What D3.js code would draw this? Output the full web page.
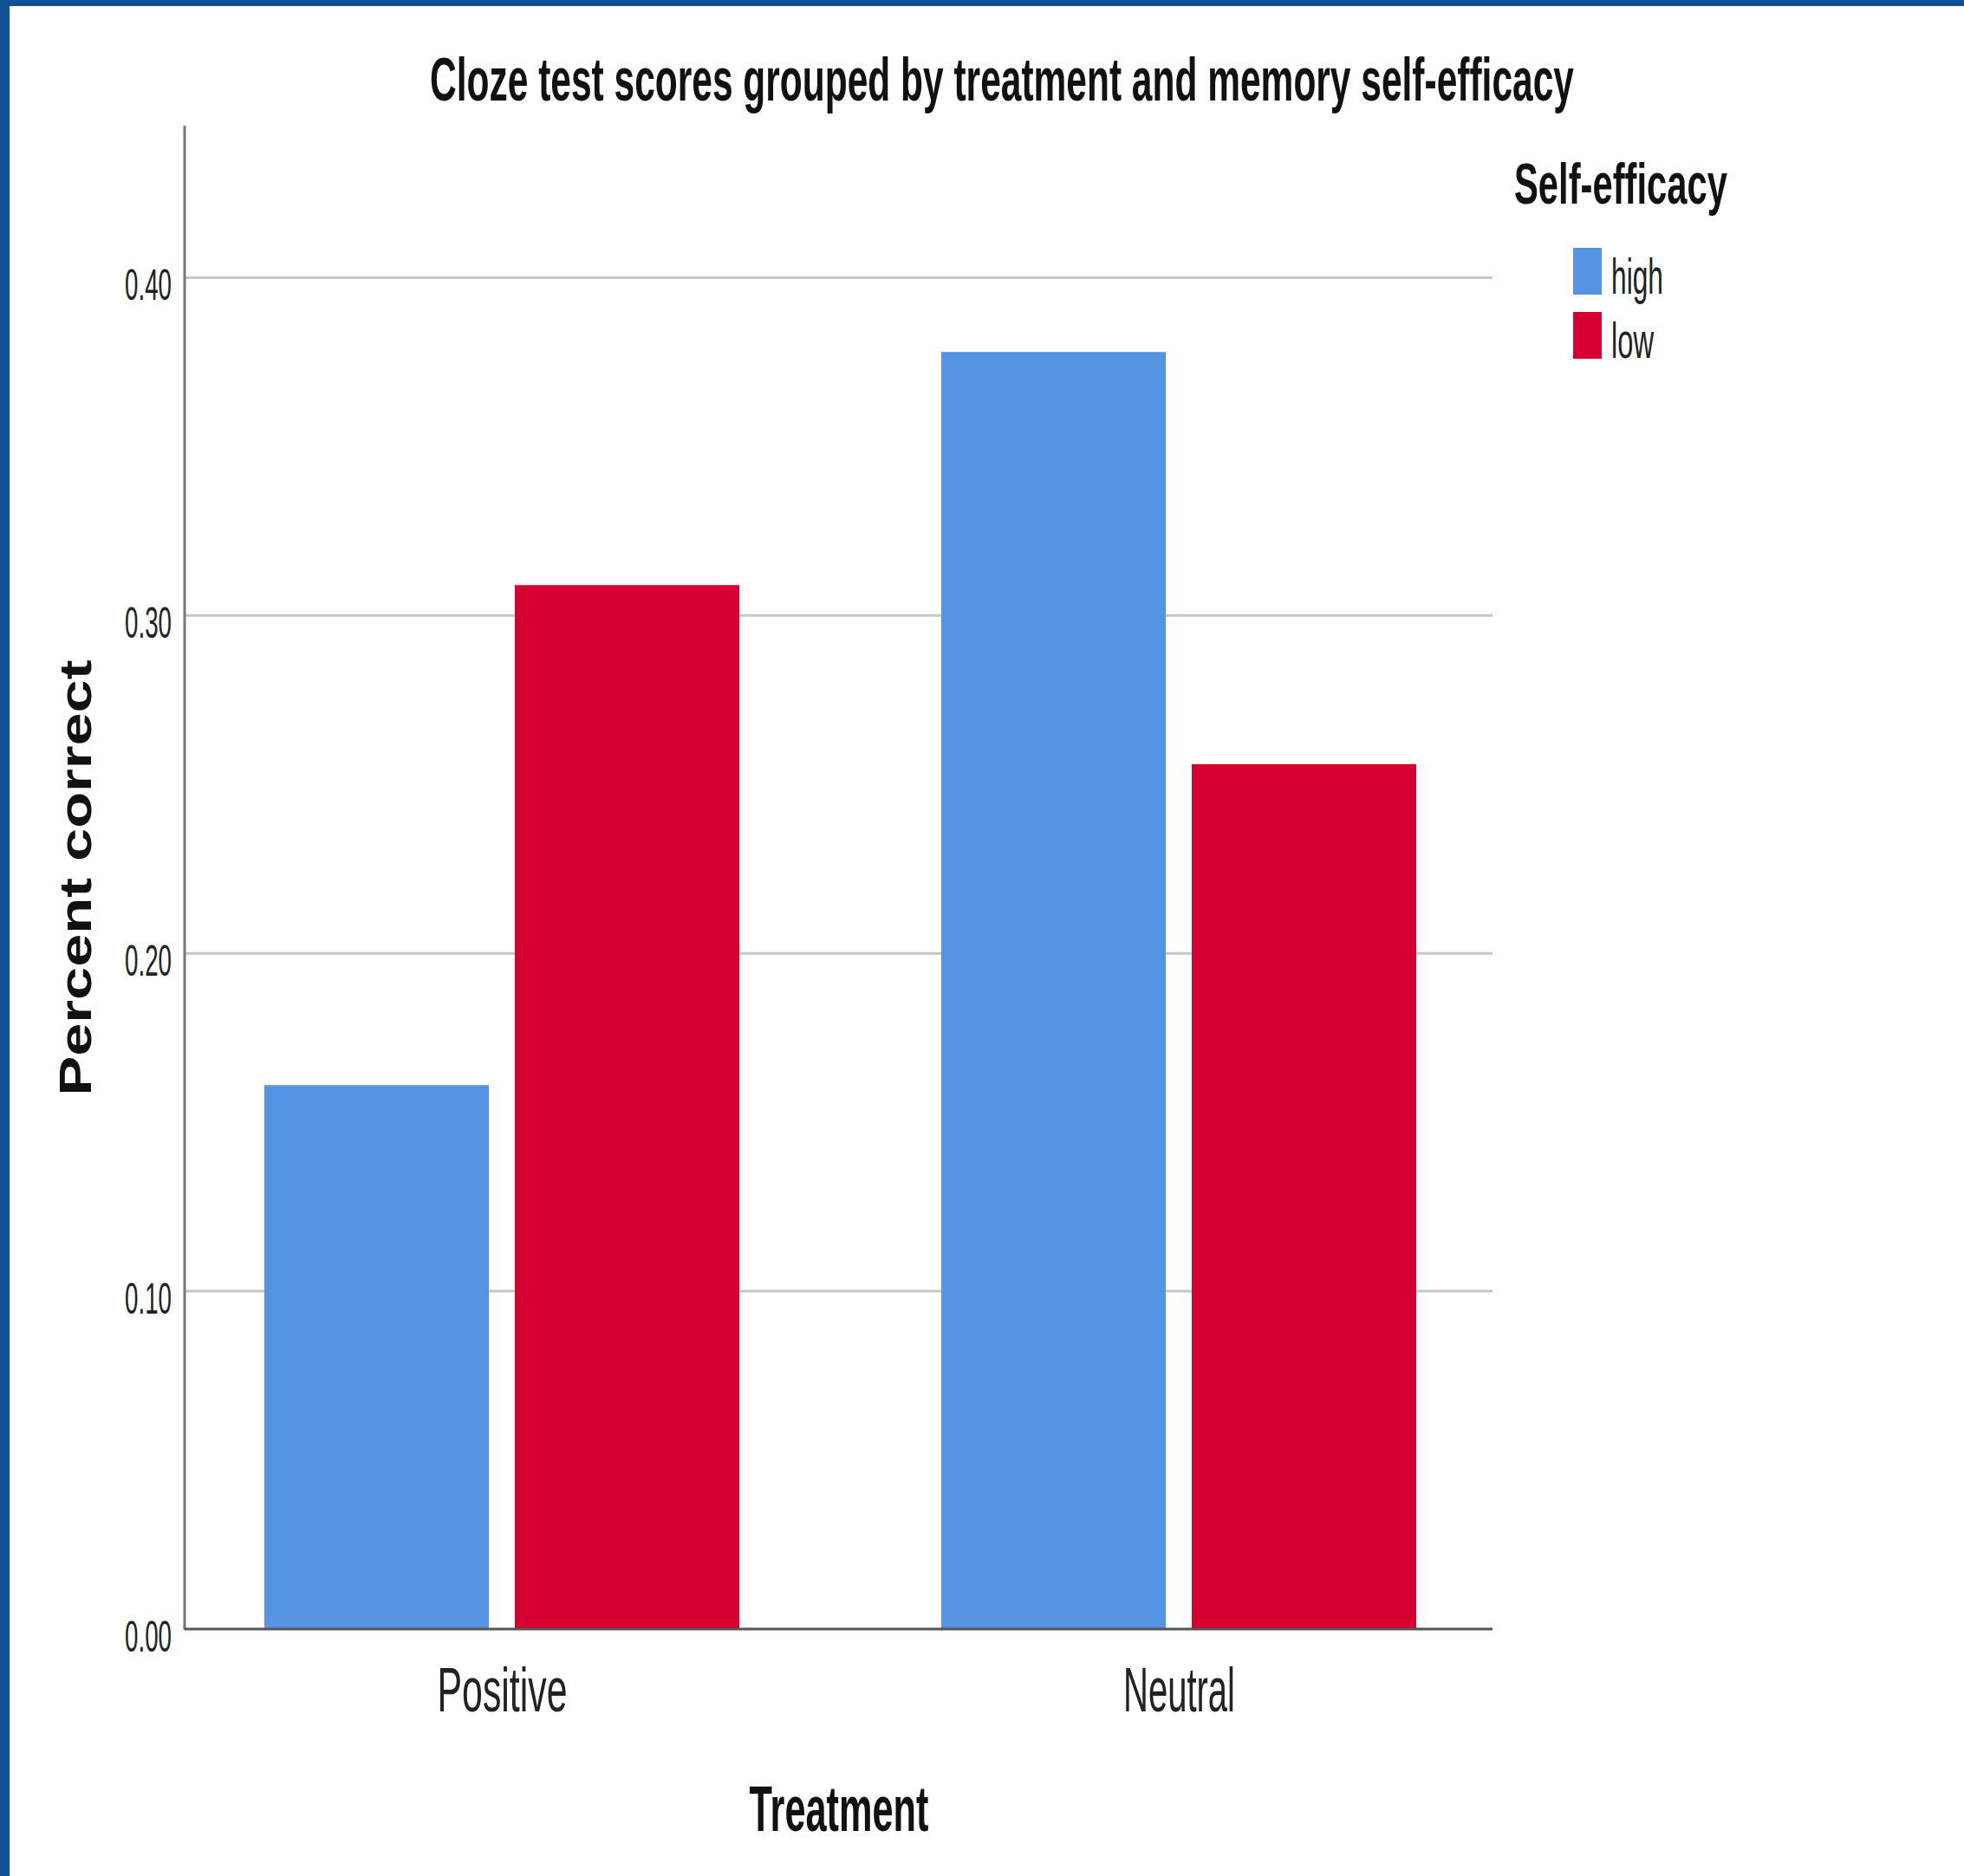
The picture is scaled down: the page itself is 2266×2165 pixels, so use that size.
<!DOCTYPE html>
<html>
<head>
<meta charset="utf-8">
<script src="https://cdn.jsdelivr.net/npm/d3@7"></script>
<style>
  html, body { margin: 0; padding: 0; background: #ffffff; }
  svg { display: block; }
  text { font-family: "Liberation Sans", Arial, sans-serif; }
</style>
</head>
<body>
<script>
// ---- data ----
const categories = ["Positive", "Neutral"];
const groups = ["high", "low"];
const highValues = [0.161, 0.378];
const lowValues = [0.309, 0.256];
const yTicks = [0.0, 0.1, 0.2, 0.3, 0.4];
const colors = ["#5594E2", "#D5002F"];
const titleText = "Cloze test scores grouped by treatment and memory self-efficacy";
const xTitle = "Treatment";
const yTitle = "Percent correct";
const legendTitle = "Self-efficacy";

const W = 2266, H = 2165;
const svg = d3.select("body").append("svg").attr("width", W).attr("height", H);

// frame
svg.append("rect").attr("x", 0).attr("y", 0).attr("width", W).attr("height", H).attr("fill", "#ffffff");
svg.append("rect").attr("x", 0).attr("y", 0).attr("width", 11).attr("height", H).attr("fill", "#0E5194");
svg.append("rect").attr("x", 0).attr("y", 0).attr("width", W).attr("height", 7).attr("fill", "#0E5194");

const plotL = 213, plotR = 1722, plotB = 1880, plotT = 145;

const y = d3.scaleLinear().domain([0, 0.445]).range([plotB, plotT]);
const x0 = d3.scalePoint().domain(categories).range([579, 1360]);
const x1 = d3.scaleBand().domain(groups).range([-274, 274]).paddingInner(0.1038).paddingOuter(0);
const color = d3.scaleOrdinal().domain(groups).range(colors);

const data = categories.map((c, i) => ({ cat: c, vals: [
  { g: "high", v: highValues[i] },
  { g: "low", v: lowValues[i] }
]}));

// gridlines
svg.append("g").selectAll("line").data(yTicks.filter(d => d > 0)).join("line")
  .attr("x1", plotL).attr("x2", plotR)
  .attr("y1", d => y(d)).attr("y2", d => y(d))
  .attr("stroke", "#c6c6c6").attr("stroke-width", 3);

// bars
svg.append("g").selectAll("g").data(data).join("g")
  .attr("transform", d => `translate(${x0(d.cat)},0)`)
  .selectAll("rect").data(d => d.vals).join("rect")
  .attr("x", d => x1(d.g))
  .attr("width", x1.bandwidth())
  .attr("y", d => y(d.v))
  .attr("height", d => y(0) - y(d.v))
  .attr("fill", d => color(d.g));

// axes lines
svg.append("line").attr("x1", plotL).attr("x2", plotL).attr("y1", plotT).attr("y2", plotB + 1)
  .attr("stroke", "#777").attr("stroke-width", 3);
svg.append("line").attr("x1", plotL).attr("x2", plotR).attr("y1", plotB).attr("y2", plotB)
  .attr("stroke", "#555").attr("stroke-width", 3);

// y axis tick labels
const yAxis = d3.axisLeft(y).tickValues(yTicks).tickFormat(d3.format(".2f")).tickSize(0).tickPadding(15);
const yg = svg.append("g").attr("transform", `translate(${plotL},0)`).call(yAxis);
yg.select(".domain").remove();
yg.selectAll("text")
  .attr("font-size", 50)
  .attr("fill", "#222")
  .attr("dy", 25)
  .attr("textLength", 54)
  .attr("lengthAdjust", "spacingAndGlyphs")
  .style("font-family", "'Liberation Sans', Arial, sans-serif");

// x axis category labels
const xAxis = d3.axisBottom(x0).tickSize(0).tickPadding(0);
const xg = svg.append("g").attr("transform", `translate(0,${plotB})`).call(xAxis);
xg.select(".domain").remove();
xg.selectAll("text")
  .attr("y", 95).attr("dy", 0)
  .attr("font-size", 72)
  .attr("fill", "#222")
  .attr("textLength", d => d === "Positive" ? 150 : 129)
  .attr("lengthAdjust", "spacingAndGlyphs")
  .style("font-family", "'Liberation Sans', Arial, sans-serif");

// title: condensed via horizontal scale so its box matches its drawn width
const tg = svg.append("g");
const tt = tg.append("text").attr("x", 0).attr("y", 0).attr("text-anchor", "middle")
  .attr("font-size", 71).attr("font-weight", "bold").attr("fill", "#111")
  .text(titleText);
const natW = tt.node().getComputedTextLength();
tg.attr("transform", `translate(1156,116) scale(${1320 / natW},1)`);

// x axis title
svg.append("text").attr("x", 968).attr("y", 2113).attr("text-anchor", "middle")
  .attr("font-size", 74).attr("font-weight", "bold").attr("fill", "#111")
  .attr("textLength", 207).attr("lengthAdjust", "spacingAndGlyphs")
  .text(xTitle);

// y axis title
svg.append("text").attr("transform", "translate(105,1013) rotate(-90)").attr("text-anchor", "middle")
  .attr("font-size", 52).attr("font-weight", "bold").attr("fill", "#111")
  .attr("textLength", 503).attr("lengthAdjust", "spacingAndGlyphs")
  .text(yTitle);

// legend
svg.append("text").attr("x", 1747).attr("y", 235)
  .attr("font-size", 67).attr("font-weight", "bold").attr("fill", "#111")
  .attr("textLength", 246).attr("lengthAdjust", "spacingAndGlyphs")
  .text(legendTitle);

const legendY = d3.scalePoint().domain(groups).range([286, 360]);
const lg = svg.append("g").selectAll("g").data(groups).join("g")
  .attr("transform", d => `translate(1815,${legendY(d)})`);
lg.append("rect").attr("width", 33).attr("height", 54).attr("fill", d => color(d));
lg.append("text").attr("x", 44).attr("y", 53)
  .attr("font-size", 57).attr("fill", "#222")
  .attr("textLength", d => d === "high" ? 60 : 49).attr("lengthAdjust", "spacingAndGlyphs")
  .text(d => d);
</script>
</body>
</html>
